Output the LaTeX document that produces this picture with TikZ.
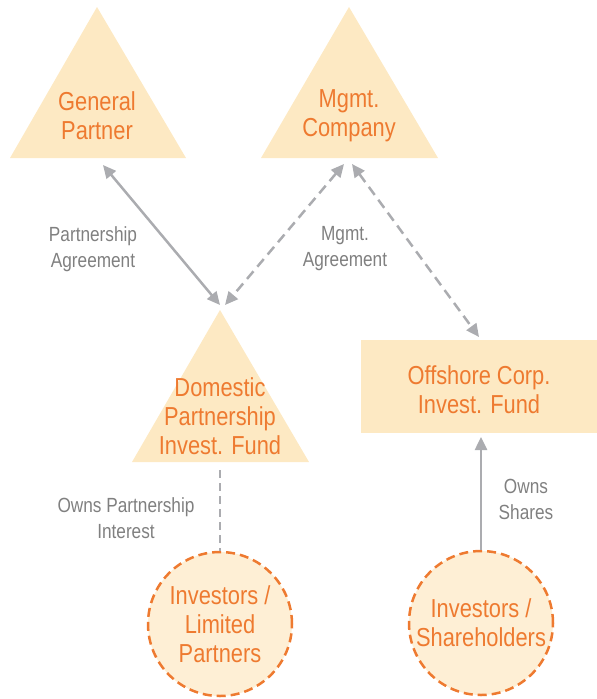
\documentclass[tikz,border=0pt]{standalone}
\usepackage{fontspec}
\setmainfont{Liberation Sans}[FakeStretch=0.84]
\usetikzlibrary{arrows.meta}
\definecolor{peach}{HTML}{FDE9C3}
\definecolor{peachlt}{HTML}{FEEFD5}
\definecolor{orng}{HTML}{EE7A30}
\definecolor{gline}{HTML}{ABACB0}
\definecolor{gtext}{HTML}{808080}
\tikzset{
  tri/.style={fill=peach, draw=none},
  ttext/.style={text=orng, font=\fontsize{26}{29}\selectfont, align=center, inner sep=0pt},
  ltext/.style={text=gtext, font=\fontsize{20.5}{26}\selectfont, align=center, inner sep=0pt},
  circ/.style={circle, minimum size=144pt, fill=peachlt, draw=orng, line width=2.5pt, dash pattern=on 9pt off 5pt, inner sep=0pt},
  conn/.style={draw=gline, line width=2.5pt},
  dconn/.style={conn, dash pattern=on 10pt off 6pt},
  tip/.style={-{Triangle[length=13pt,width=12pt]}},
  tips/.style={{Triangle[length=13pt,width=12pt]}-{Triangle[length=13pt,width=12pt]}},
}
\begin{document}
\begin{tikzpicture}[x=1pt,y=-1pt]
\useasboundingbox (0,0) rectangle (597,699);
% triangles
\fill[tri] (97,7) -- (186,158) -- (10,158) -- cycle;
\fill[tri] (349,7) -- (438,158) -- (261,158) -- cycle;
\fill[tri] (220,310) -- (309,462) -- (132,462) -- cycle;
\node[ttext] (gp) at (97,116) {General\\Partner};
\node[ttext] (mc) at (349,116) {Mgmt.\\Company};
\node[ttext] (dp) at (220,416) {Domestic\\Partnership\\Invest. Fund};
% offshore
\node[fill=peach, minimum width=236pt, minimum height=93pt, inner sep=0pt] (of) at (479,386.5) {};
\node[ttext] (oft) at (479,390) {Offshore Corp.\\Invest. Fund};
% circles
\node[circ] (c1) at (220,624) {};
\node[ttext] at (c1.center) {Investors /\\Limited\\Partners};
\node[circ] (c2) at (481,623) {};
\node[ttext] at (c2.center) {Investors /\\Shareholders};
% anchor coordinates
\coordinate (gpa) at (103,165);
\coordinate (mca) at (344,164);
\coordinate (mcb) at (352,164);
\coordinate (dpa) at (220,305);
\coordinate (dpb) at (225,305);
\coordinate (ofa) at (479,337);
\coordinate (dpc) at (220,470);
\coordinate (ofb) at (481,437);
% connectors
\draw[conn, tips] (gpa) -- (dpa);
\draw[dconn, tips] (mca) -- (dpb);
\draw[dconn, tips] (mcb) -- (ofa);
\draw[conn, dash pattern=on 8pt off 5pt, line width=2pt] (dpc) -- (c1.north);
\draw[conn, tip] (c2.north) -- (ofb);
% labels
\node[ltext] (l1) at (93,249) {Partnership\\Agreement};
\node[ltext] (l2) at (345,249) {Mgmt.\\Agreement};
\node[ltext] (l3) at (126,518) {Owns Partnership\\Interest};
\node[ltext] (l4) at (526,499) {Owns\\Shares};
\end{tikzpicture}
\end{document}
